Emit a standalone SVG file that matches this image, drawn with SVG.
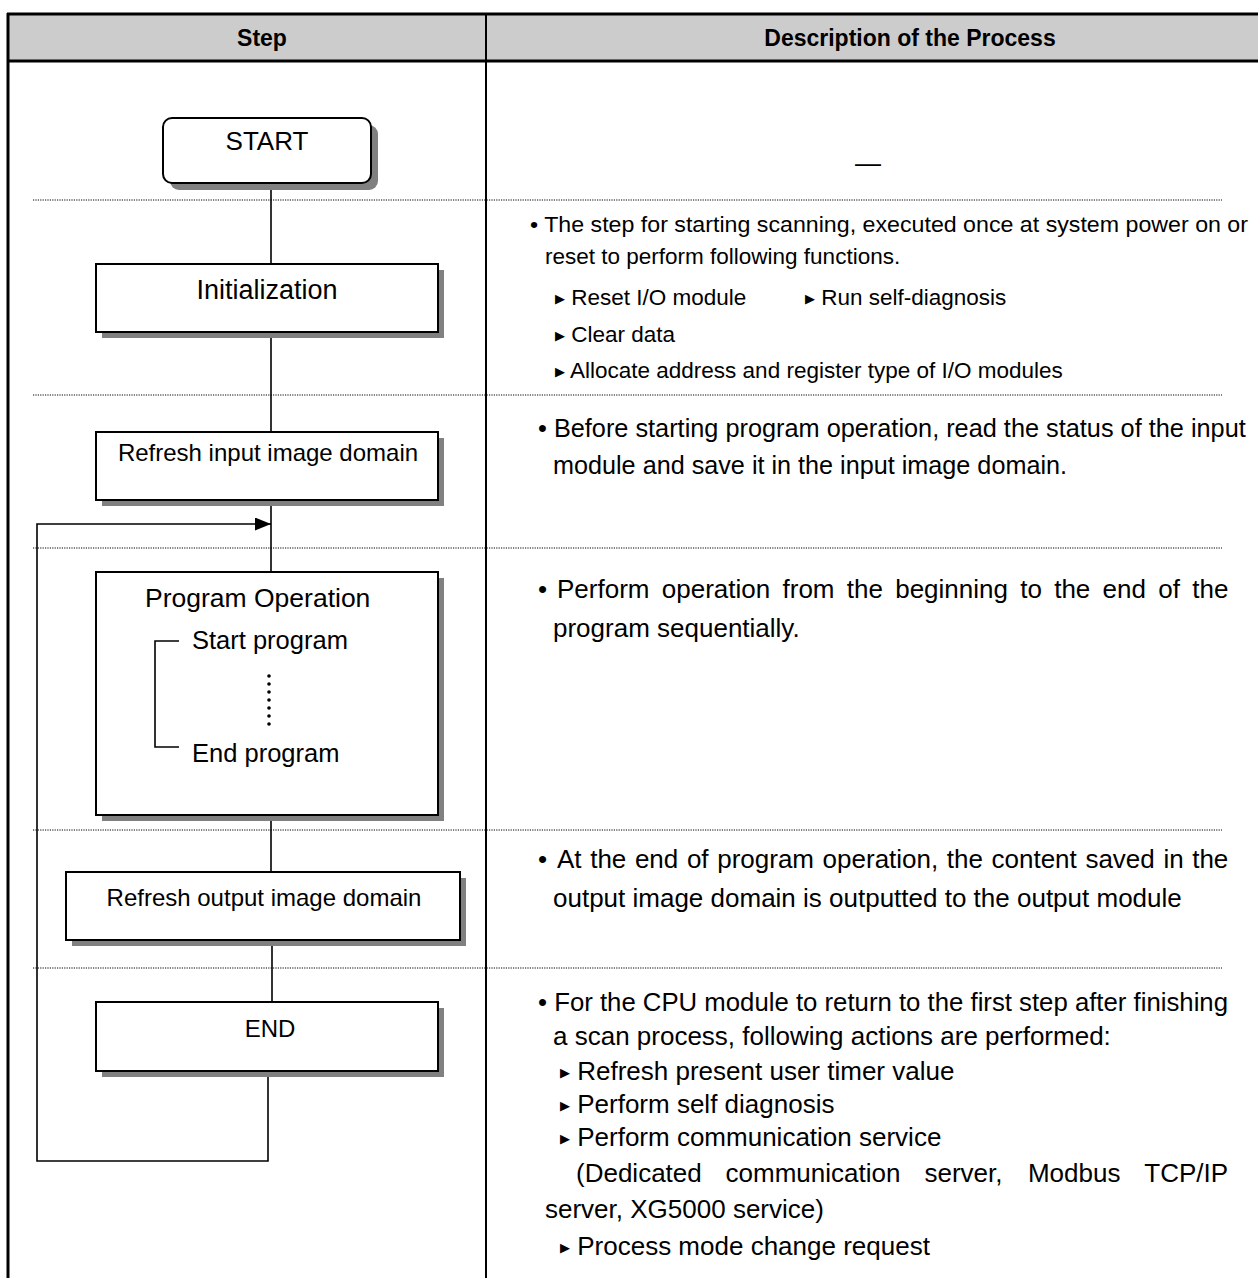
<svg xmlns="http://www.w3.org/2000/svg" width="1258" height="1278" viewBox="0 0 1258 1278">
<defs>
<style>
.box{fill:#fff;stroke:#000;stroke-width:2}
.shadow{fill:#808080}
.conn{stroke:#000;stroke-width:1.6;fill:none}
.dot{stroke:#000;stroke-width:1;stroke-dasharray:1.2 1.2;fill:none}
.lbl{font-family:"Liberation Sans",Arial,sans-serif;font-size:24px;fill:#000}
.hdr{font-family:"Liberation Sans",Arial,sans-serif;font-size:23px;font-weight:bold;fill:#000}
.d{font-family:"Liberation Sans",Arial,sans-serif;font-size:26px;fill:#000}
.d2{font-family:"Liberation Sans",Arial,sans-serif;font-size:22.5px;fill:#000}
.tri{font-family:"DejaVu Sans","Liberation Sans",sans-serif;font-size:13px}
</style>
<marker id="arr" viewBox="0 0 16 13" refX="16" refY="6.5" markerWidth="16" markerHeight="13" markerUnits="userSpaceOnUse" orient="auto">
<path d="M0,0 L16,6.5 L0,13 Z" fill="#000"/>
</marker>
</defs>
<rect width="1258" height="1278" fill="#fff"/>
<g id="table">
<rect x="8" y="14" width="1250" height="47" fill="#cccccc"/>
<line x1="7" y1="14" x2="1258" y2="14" stroke="#000" stroke-width="3"/>
<line x1="7" y1="61" x2="1258" y2="61" stroke="#000" stroke-width="3"/>
<line x1="8" y1="13" x2="8" y2="1278" stroke="#000" stroke-width="3"/>
<line x1="486" y1="14" x2="486" y2="1278" stroke="#000" stroke-width="2"/>
<text class="hdr" x="262" y="46" text-anchor="middle">Step</text>
<text class="hdr" x="910" y="46" text-anchor="middle">Description of the Process</text>
<line class="dot" x1="33" y1="200" x2="1222" y2="200"/>
<line class="dot" x1="33" y1="395" x2="1222" y2="395"/>
<line class="dot" x1="33" y1="548" x2="1222" y2="548"/>
<line class="dot" x1="33" y1="830" x2="1222" y2="830"/>
<line class="dot" x1="33" y1="968" x2="1222" y2="968"/>
</g>
<g id="connectors">
<line class="conn" x1="271" y1="183" x2="271" y2="264"/>
<line class="conn" x1="271" y1="332" x2="271" y2="432"/>
<line class="conn" x1="271" y1="500" x2="271" y2="572"/>
<line class="conn" x1="271" y1="815" x2="271" y2="872"/>
<line class="conn" x1="272" y1="940" x2="272" y2="1002"/>
<polyline class="conn" points="268,1071 268,1161 37,1161 37,524 271,524" marker-end="url(#arr)"/>
</g>
<g id="start">
<rect class="shadow" x="170" y="125" width="208" height="65" rx="9"/>
<rect class="box" x="163" y="118" width="208" height="65" rx="9"/>
<text class="lbl" x="267" y="150" text-anchor="middle" style="font-size:26px">START</text>
</g>
<g id="init">
<rect class="shadow" x="102" y="270" width="342" height="68"/>
<rect class="box" x="96" y="264" width="342" height="68"/>
<text class="lbl" x="267" y="299" text-anchor="middle" style="font-size:27px">Initialization</text>
</g>
<g id="refresh-input">
<rect class="shadow" x="102" y="438" width="342" height="68"/>
<rect class="box" x="96" y="432" width="342" height="68"/>
<text class="lbl" x="268" y="461" text-anchor="middle">Refresh input image domain</text>
</g>
<g id="program">
<rect class="shadow" x="102" y="578" width="342" height="243"/>
<rect class="box" x="96" y="572" width="342" height="243"/>
<text class="lbl" x="145" y="607" style="font-size:26.5px">Program Operation</text>
<text class="lbl" x="192" y="649" style="font-size:25.5px">Start program</text>
<text class="lbl" x="192" y="762" style="font-size:25.5px">End program</text>
<polyline class="conn" points="179,641 155,641 155,747 179,747"/>
<g fill="#000">
<circle cx="269" cy="676" r="1.8"/><circle cx="269" cy="684" r="1.8"/><circle cx="269" cy="692" r="1.8"/><circle cx="269" cy="700" r="1.8"/><circle cx="269" cy="708" r="1.8"/><circle cx="269" cy="716" r="1.8"/><circle cx="269" cy="724" r="1.8"/>
</g>
</g>
<g id="refresh-output">
<rect class="shadow" x="72" y="878" width="394" height="68"/>
<rect class="box" x="66" y="872" width="394" height="68"/>
<text class="lbl" x="264" y="906" text-anchor="middle">Refresh output image domain</text>
</g>
<g id="end">
<rect class="shadow" x="102" y="1008" width="342" height="69"/>
<rect class="box" x="96" y="1002" width="342" height="69"/>
<text class="lbl" x="270" y="1037" text-anchor="middle">END</text>
</g>
<g id="descriptions">
<text class="d" x="868" y="172" text-anchor="middle">—</text>
<text class="d2" x="530" y="232" textLength="718" lengthAdjust="spacingAndGlyphs">• The step for starting scanning, executed once at system power on or</text>
<text class="d2" x="545" y="264">reset to perform following functions.</text>
<text class="d2" x="555" y="305"><tspan class="tri" dy="-2">▶</tspan><tspan dy="2"> Reset I/O module</tspan></text>
<text class="d2" x="805" y="305"><tspan class="tri" dy="-2">▶</tspan><tspan dy="2"> Run self-diagnosis</tspan></text>
<text class="d2" x="555" y="342"><tspan class="tri" dy="-2">▶</tspan><tspan dy="2"> Clear data</tspan></text>
<text class="d2" x="555" y="378"><tspan class="tri" dy="-2">▶</tspan><tspan dy="2"> Allocate address and register type of I/O modules</tspan></text>
<text class="d" x="538" y="437" style="font-size:25.3px">• Before starting program operation, read the status of the input</text>
<text class="d" x="553" y="474" textLength="514" lengthAdjust="spacingAndGlyphs">module and save it in the input image domain.</text>
<text class="d" y="598"><tspan x="538">•</tspan><tspan x="557">Perform</tspan><tspan x="661.8">operation</tspan><tspan x="782.5">from</tspan><tspan x="846.8">the</tspan><tspan x="895.2">beginning</tspan><tspan x="1020.2">to</tspan><tspan x="1054.2">the</tspan><tspan x="1102.6">end</tspan><tspan x="1158.3">of</tspan><tspan x="1192.3">the</tspan></text>
<text class="d" x="553" y="637">program sequentially.</text>
<text class="d" y="868"><tspan x="538">•</tspan><tspan x="557">At</tspan><tspan x="590.2">the</tspan><tspan x="634.9">end</tspan><tspan x="686.9">of</tspan><tspan x="717.2">program</tspan><tspan x="822.6">operation,</tspan><tspan x="946.8">the</tspan><tspan x="991.5">content</tspan><tspan x="1085.4">saved</tspan><tspan x="1163.4">in</tspan><tspan x="1192.2">the</tspan></text>
<text class="d" x="553" y="907">output image domain is outputted to the output module</text>
<text class="d" x="538" y="1011" textLength="690" lengthAdjust="spacingAndGlyphs">• For the CPU module to return to the first step after finishing</text>
<text class="d" x="553" y="1045">a scan process, following actions are performed:</text>
<text class="d" x="560" y="1080"><tspan class="tri" dy="-3">▶</tspan><tspan dy="3"> Refresh present user timer value</tspan></text>
<text class="d" x="560" y="1113"><tspan class="tri" dy="-3">▶</tspan><tspan dy="3"> Perform self diagnosis</tspan></text>
<text class="d" x="560" y="1146"><tspan class="tri" dy="-3">▶</tspan><tspan dy="3"> Perform communication service</tspan></text>
<text class="d" y="1182"><tspan x="576">(Dedicated</tspan><tspan x="725.6">communication</tspan><tspan x="924.5">server,</tspan><tspan x="1027.9">Modbus</tspan><tspan x="1144.3">TCP/IP</tspan></text>
<text class="d" x="545" y="1218">server, XG5000 service)</text>
<text class="d" x="560" y="1255"><tspan class="tri" dy="-3">▶</tspan><tspan dy="3"> Process mode change request</tspan></text>
</g>
</svg>
